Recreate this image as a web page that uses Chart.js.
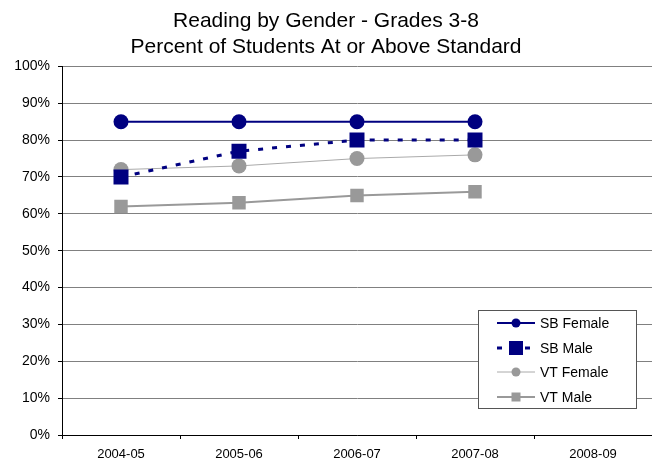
<!DOCTYPE html>
<html>
<head>
<meta charset="utf-8">
<script src="https://cdn.jsdelivr.net/npm/chart.js@4"></script>
<style>
  body { margin: 0; background: #fff; }
  #wrap { width: 652px; height: 462px; }
</style>
</head>
<body>
<div id="wrap"><canvas id="grafica"></canvas></div>
<script>
// datos
var anios = ['2004-05', '2005-06', '2006-07', '2007-08', '2008-09'];
var sb_female = [85, 85, 85, 85, null];
var sb_male = [70, 77, 80, 80, null];
var vt_female = [72, 73, 75, 76, null];
var vt_male = [62, 63, 65, 66, null];
var titulo = ['Reading by Gender - Grades 3-8', 'Percent of Students At or Above Standard'];

var azul = '#000080';
var gris = '#999999';
var fuente = '"Liberation Sans", Arial, sans-serif';

// leyenda dibujada a mano (linea + marcador como en el original)
const leyenda = {
    id: 'leyenda',
    afterDraw(chart) {
        const ctx = chart.ctx;
        const x0 = 478, y0 = 310, w = 158, h = 98;
        ctx.save();
        ctx.fillStyle = '#fff';
        ctx.fillRect(x0, y0, w, h);
        ctx.strokeStyle = '#555';
        ctx.lineWidth = 1;
        ctx.strokeRect(x0 + 0.5, y0 + 0.5, w, h);
        const filas = [323, 348, 372, 397];
        chart.data.datasets.forEach(function(ds, i) {
            const y = filas[i];
            ctx.strokeStyle = ds.borderColor;
            ctx.lineWidth = ds.borderWidth;
            ctx.setLineDash(ds.borderDash || []);
            ctx.beginPath();
            ctx.moveTo(497, y);
            ctx.lineTo(535, y);
            ctx.stroke();
            ctx.setLineDash([]);
            ctx.fillStyle = ds.pointBackgroundColor;
            const r = ds.legendR;
            if (ds.pointStyle == 'rect') {
                ctx.fillRect(516 - r, y - r, 2 * r, 2 * r);
            } else {
                ctx.beginPath();
                ctx.arc(516, y, r, 0, Math.PI * 2);
                ctx.fill();
            }
            ctx.fillStyle = '#000';
            ctx.font = '14px ' + fuente;
            ctx.textBaseline = 'middle';
            ctx.fillText(ds.label, 540, y + 1);
        });
        ctx.restore();
    }
};

const ctx = document.getElementById('grafica');
const myChart = new Chart(ctx, {
    type: 'line',
    data: {
        labels: anios,
        datasets: [
            {
                label: 'SB Female',
                data: sb_female,
                borderColor: azul,
                backgroundColor: azul,
                pointBackgroundColor: azul,
                pointBorderWidth: 0,
                borderWidth: 2,
                pointStyle: 'circle',
                pointRadius: 7.5,
                legendR: 4.5
            }, {
                label: 'SB Male',
                data: sb_male,
                borderColor: azul,
                backgroundColor: azul,
                pointBackgroundColor: azul,
                pointBorderWidth: 0,
                borderWidth: 3,
                borderDash: [5, 9],
                pointStyle: 'rect',
                pointRadius: 10.6,
                legendR: 7
            }, {
                label: 'VT Female',
                data: vt_female,
                borderColor: '#aaaaaa',
                backgroundColor: gris,
                pointBackgroundColor: gris,
                pointBorderWidth: 0,
                borderWidth: 1,
                pointStyle: 'circle',
                pointRadius: 7.5,
                legendR: 4.5
            }, {
                label: 'VT Male',
                data: vt_male,
                borderColor: gris,
                backgroundColor: gris,
                pointBackgroundColor: gris,
                pointBorderWidth: 0,
                borderWidth: 2,
                pointStyle: 'rect',
                pointRadius: 9.5,
                legendR: 4.5
            }
        ]
    },
    options: {
        responsive: true,
        maintainAspectRatio: false,
        animation: false,
        layout: { autoPadding: false, padding: 0 },
        plugins: {
            legend: { display: false },
            tooltip: { enabled: false },
            title: {
                display: true,
                text: titulo,
                color: '#000',
                font: { family: fuente, size: 21, weight: 'normal', lineHeight: 1.2 },
                padding: { top: 9, bottom: 7 }
            }
        },
        scales: {
            x: {
                offset: true,
                grid: { offset: true, drawOnChartArea: false, drawTicks: true, tickLength: 4, color: '#000' },
                border: { color: '#000', width: 1 },
                ticks: {
                    color: '#000',
                    padding: 8,
                    maxRotation: 0,
                    font: { family: fuente, size: 13 }
                },
                afterFit: function(s) { s.height = 27; }
            },
            y: {
                min: 0,
                max: 100,
                grid: { color: '#808080', tickLength: 4, tickColor: '#000' },
                border: { color: '#000', width: 1 },
                ticks: {
                    stepSize: 10,
                    color: '#000',
                    padding: 8,
                    font: { family: fuente, size: 14 },
                    callback: function(v) { return v + '%'; }
                },
                afterFit: function(s) { s.width = 62; }
            }
        }
    },
    plugins: [leyenda]
});
</script>
</body>
</html>
